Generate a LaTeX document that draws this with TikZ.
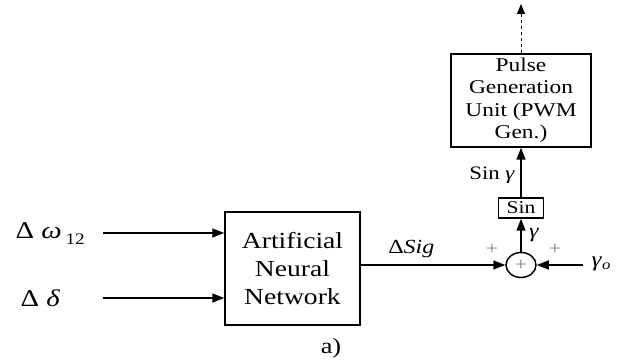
\documentclass[tikz,border=0pt]{standalone}
\usepackage{fontspec}
\setmainfont[FakeStretch=1.2]{Liberation Serif}
\usetikzlibrary{arrows.meta,shapes.geometric,positioning}

\begin{document}
\begin{tikzpicture}[x=1pt,y=-1pt,
    blockbox/.style={draw,line width=1.5pt,align=center,inner sep=0pt},
    sig/.style={line width=1.5pt,-{Triangle[length=12pt,width=9pt]}},
    plusmark/.style={text=gray,inner sep=0pt,font=\fontsize{18}{18}\selectfont}]
\useasboundingbox (0,0) rectangle (623,363);

% blocks
\node[blockbox,minimum width=135pt,minimum height=113pt,
      font=\fontsize{23}{28}\selectfont] (ann) at (292.5,268.5) {Artificial\\Neural\\Network};
\node[blockbox,minimum width=140pt,minimum height=93pt,
      font=\fontsize{19.5}{22.5}\selectfont] (pwm) at (521,100.5) {Pulse\\Generation\\Unit (PWM\\Gen.)};
\node[blockbox,minimum width=45pt,minimum height=20pt,
      font=\fontsize{18}{18}\selectfont] (sinb) at (521,208) {Sin};
\node[draw,ellipse,line width=1.5pt,minimum width=30pt,minimum height=25pt,inner sep=0pt] (sum) at (521,265) {};
\node[plusmark] (sumin) at (sum.center) {+};

% inputs
\node[anchor=west,font=\fontsize{24}{24}\selectfont] (dw) at (12,234) {Δ \textit{ω}\,\raisebox{-6pt}{\fontsize{16}{16}\selectfont 12}};
\node[anchor=west,font=\fontsize{24}{24}\selectfont] (dd) at (17,298) {Δ \textit{δ}};
\coordinate (dwout) at (103,233);
\coordinate (ddout) at (103,298);
\draw[sig] (dwout) -- (dwout -| ann.west);
\draw[sig] (ddout) -- (ddout -| ann.west);

% summing point
\draw[sig] (ann.east |- sum.west) -- node[above=3pt,pos=0.35,font=\fontsize{20}{20}\selectfont] (dsig) {Δ\textit{Sig}} (sum.west);
\node[font=\fontsize{21}{21}\selectfont] (g0) at (601,264) {\textit{γ}\raisebox{-3pt}{\fontsize{14}{14}\selectfont\textit{o}}};
\coordinate (g0in) at (583,265);
\draw[sig] (g0in) -- (sum.east);
\node[plusmark] (pl) at (492,249) {+};
\node[plusmark] (pr) at (555,249) {+};

% vertical path
\draw[sig] (sum.north) -- node[right=4pt,font=\fontsize{20}{20}\selectfont] (gam) {\textit{γ}} (sinb.south);
\draw[sig] (sinb.north) -- node[left=2pt,pos=0.45,font=\fontsize{19}{19}\selectfont] (sing) {Sin \textit{γ}} (pwm.south);
\coordinate (out) at (521,4);
\draw[line width=0.8pt,dashed,-{Triangle[length=10pt,width=8pt]}] (pwm.north) -- (out);

\node[font=\fontsize{22}{22}\selectfont] (cap) at (331,348) {a)};
\end{tikzpicture}
\end{document}
